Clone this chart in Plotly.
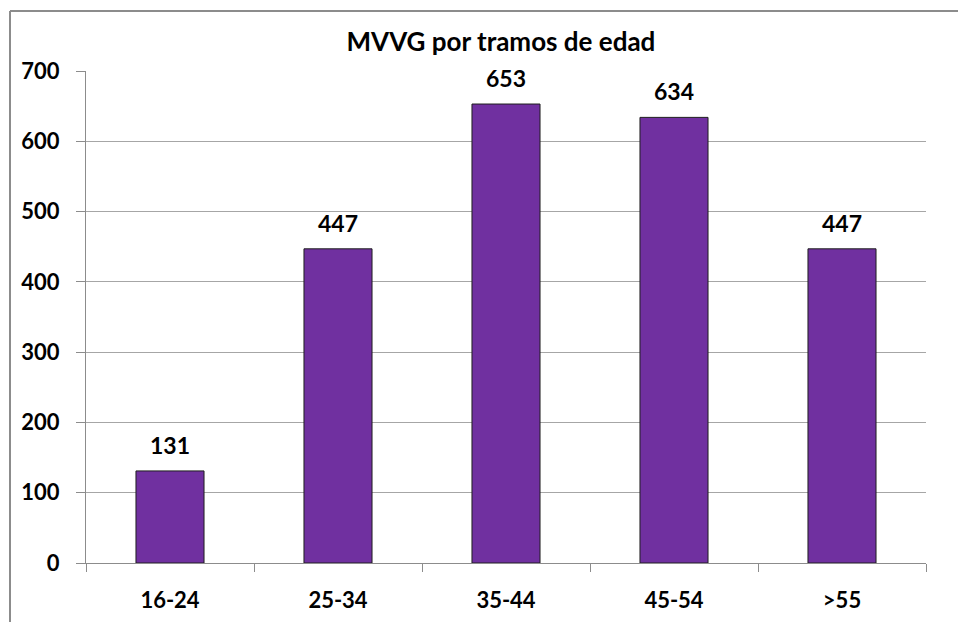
import plotly.graph_objects as go

categories = ["16-24", "25-34", "35-44", "45-54", ">55"]
values = [131, 447, 653, 634, 447]
y_ticks = [0, 100, 200, 300, 400, 500, 600, 700]
title_text = "MVVG por tramos de edad"

FONT = "Lato"
L, R, T, B = 86, 32, 71, 59
W, H = 958, 622
pw, ph = W - L - R, H - T - B

fig = go.Figure()
fig.add_trace(go.Bar(
    x=categories, y=values,
    marker=dict(color="#7030A0", line=dict(color="#1e1e1e", width=1)),
    hoverinfo="x+y",
))

for c, v in zip(categories, values):
    fig.add_annotation(x=c, y=v, text=str(v), showarrow=False,
                       yanchor="bottom", yshift=10,
                       font=dict(family=FONT, size=23, color="#000", weight="bold"))

def px2x(px):
    return (px - L) / pw
def py2y(py):
    return (H - B - py) / ph

fig.add_shape(type="line", xref="paper", yref="paper",
              x0=px2x(10), x1=px2x(1000), y0=py2y(11), y1=py2y(11),
              line=dict(color="#8c8c8c", width=2))
fig.add_shape(type="line", xref="paper", yref="paper",
              x0=px2x(10), x1=px2x(10), y0=py2y(11), y1=py2y(700),
              line=dict(color="#8c8c8c", width=2))

fig.update_layout(
    width=W, height=H,
    margin=dict(l=L, r=R, t=T, b=B, autoexpand=False),
    paper_bgcolor="white", plot_bgcolor="white",
    bargap=0.595,
    showlegend=False,
    title=dict(text=title_text, xref="paper", x=0.494, xanchor="center",
               y=1 - 42 / H, yanchor="middle",
               font=dict(family=FONT, size=26, color="#000", weight="bold")),
    xaxis=dict(
        type="category", automargin=False,
        showline=True, linecolor="#8c8c8c", linewidth=1,
        ticks="outside", tickson="boundaries", ticklen=8, tickcolor="#8c8c8c",
        showgrid=False,
        tickfont=dict(family=FONT, size=22, color="#000", weight="bold"),
        ticklabelstandoff=18,
        fixedrange=True,
    ),
    yaxis=dict(
        range=[0, 700], automargin=False,
        tickvals=y_ticks,
        showline=True, linecolor="#8c8c8c", linewidth=1,
        ticks="outside", ticklen=9, tickcolor="#8c8c8c",
        showgrid=True, gridcolor="#a6a6a6", gridwidth=1,
        zeroline=False,
        tickfont=dict(family=FONT, size=22, color="#000", weight="bold"),
        ticklabelstandoff=12,
        fixedrange=True,
    ),
)

fig.write_html("out.html", config={"displayModeBar": False},
               post_script="document.body.style.margin='0';document.body.style.padding='0';")
